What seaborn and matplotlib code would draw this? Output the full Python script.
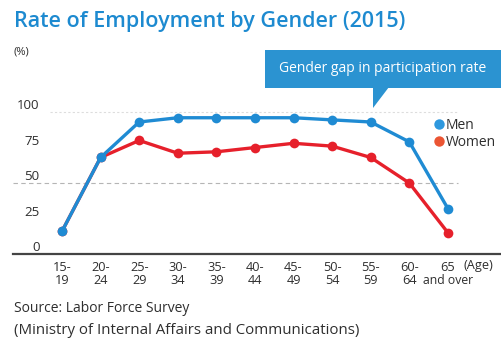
import matplotlib
matplotlib.use("Agg")
import matplotlib.pyplot as plt
import matplotlib.patches as mpatches
from matplotlib.lines import Line2D
import seaborn as sns
import pandas as pd

# Employment rate by age group, 2015 (%)
age_groups = ["15-\n19", "20-\n24", "25-\n29", "30-\n34", "35-\n39", "40-\n44",
              "45-\n49", "50-\n54", "55-\n59", "60-\n64", "65"]
last_group_suffix = "and over"
men = [16, 68, 93, 96, 96, 96, 96, 94.5, 93, 79, 32]
women = [16, 68, 80, 71, 72, 75, 78, 76, 68, 50, 15]
y_ticks = [0, 25, 50, 75, 100]

BLUE = "#1f8bd3"
RED = "#e6202b"
TITLE_BLUE = "#1d8ad0"
TEXT = "#2e2e2e"

sns.set_style("white")
plt.rcParams["font.family"] = ["Open Sans", "DejaVu Sans"]

df = pd.DataFrame({
    "pos": list(range(len(age_groups))) * 2,
    "rate": men + women,
    "gender": ["Men"] * len(men) + ["Women"] * len(women),
})

W, H = 501, 338
fig = plt.figure(figsize=(W / 100, H / 100), dpi=100)
fig.patch.set_facecolor("white")

# axes: x from px 13 to 500, y=0 at px 254, y=100 at px 112
ax = fig.add_axes([13 / W, (H - 254) / H, 487 / W, 154 / H])
ax.set_facecolor("white")

# light reference lines
ax.hlines([50], -1.27, 10.25, colors="#b5b5b5", linestyles=(0, (4, 3)), linewidth=0.8, zorder=1)
ax.hlines([100], -0.3, 10.25, colors="#dddddd", linestyles=(0, (2, 2)), linewidth=0.8, zorder=1)

sns.lineplot(data=df, x="pos", y="rate", hue="gender", hue_order=["Women", "Men"],
             palette={"Men": BLUE, "Women": RED}, marker="o", markersize=7,
             markeredgewidth=0, linewidth=2.4, legend=False, ax=ax, zorder=3)

ax.set_xlim(-1.27, 11.35)
ax.set_ylim(0, 108.5)
ax.set_xlabel("")
ax.set_ylabel("")

ax.set_xticks(range(len(age_groups)))
ax.set_xticklabels(age_groups, fontsize=9.2, color=TEXT, linespacing=1.05)
for lbl in ax.get_xticklabels():
    lbl.set_verticalalignment("top")
ax.set_yticks(y_ticks)
ax.set_yticklabels([str(v) for v in y_ticks], fontsize=9.5, color=TEXT, va="bottom")
ax.tick_params(axis="x", length=0, pad=5)
ax.tick_params(axis="y", length=0, pad=-19)

# second line of the last age group label
ax.annotate(last_group_suffix, xy=(len(age_groups) - 1, 0),
            xycoords=ax.get_xaxis_transform(), xytext=(0, -26),
            textcoords="offset pixels", ha="center", va="center",
            fontsize=8.8, color=TEXT)

for s in ["left", "right", "top"]:
    ax.spines[s].set_visible(False)
ax.spines["bottom"].set_color("#444444")
ax.spines["bottom"].set_linewidth(1.6)

# legend
handles = [
    Line2D([], [], marker="o", linestyle="none", markersize=7.5, markeredgewidth=0,
           color="#2e98de", label="Men"),
    Line2D([], [], marker="o", linestyle="none", markersize=7.5, markeredgewidth=0,
           color="#eb5533", label="Women"),
]
fig.legend(handles=handles, loc="upper left", bbox_to_anchor=(426 / W, 1 - 112 / H),
           frameon=False, fontsize=10, handletextpad=0.0, labelspacing=0.2,
           borderaxespad=0, handlelength=1.0, labelcolor=TEXT)

# title and unit
fig.text(14 / W, 1 - 22 / H, "Rate of Employment by Gender (2015)", fontsize=15.5,
         color=TITLE_BLUE, va="center", ha="left", fontweight="semibold")
fig.text(14 / W, 1 - 52 / H, "(%)", fontsize=8, color=TEXT, va="center", ha="left")
fig.text(463 / W, 1 - 266 / H, "(Age)", fontsize=9.2, color=TEXT, va="center", ha="left")

# callout box
CALLOUT = "#2b93d1"
box = mpatches.Rectangle((265 / W, 1 - 88 / H), 236 / W, 38 / H, transform=fig.transFigure,
                         facecolor=CALLOUT, edgecolor="none", zorder=5)
fig.patches.append(box)
tri = mpatches.Polygon([(373 / W, 1 - 87 / H), (389 / W, 1 - 87 / H), (373 / W, 1 - 108 / H)],
                       closed=True, transform=fig.transFigure, facecolor=CALLOUT,
                       edgecolor="none", zorder=5)
fig.patches.append(tri)
fig.text(383 / W, 1 - 69 / H, "Gender gap in participation rate", fontsize=10,
         color="white", ha="center", va="center", zorder=6)

# source
fig.text(14 / W, 1 - 309 / H, "Source: Labor Force Survey", fontsize=10, color=TEXT,
         ha="left", va="center")
fig.text(14 / W, 1 - 330 / H, "(Ministry of Internal Affairs and Communications)", fontsize=10.8,
         color=TEXT, ha="left", va="center")

fig.savefig("out.png", dpi=100, facecolor="white")
